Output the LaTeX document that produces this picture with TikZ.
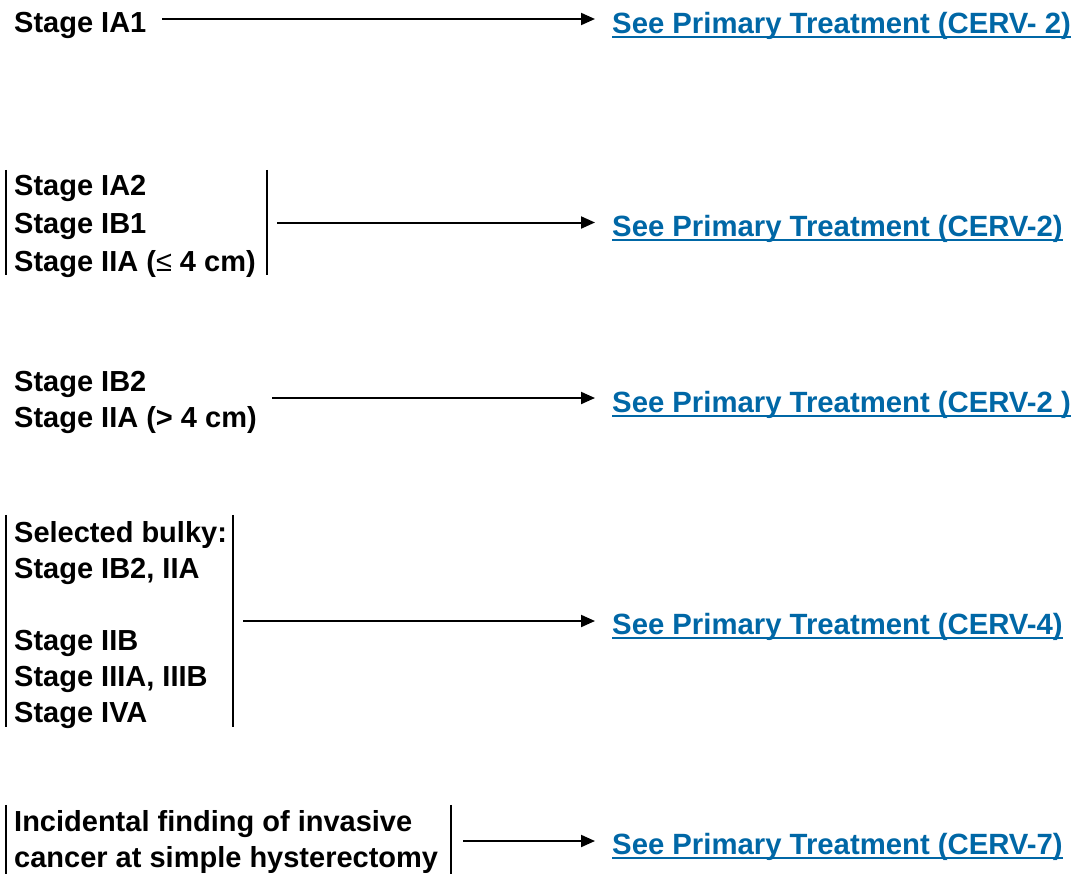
\documentclass[tikz,border=0pt]{standalone}
\usepackage{fontspec}
\setmainfont{Liberation Sans}
\newfontfamily\symfont{Liberation Sans}
\usetikzlibrary{arrows.meta}
\definecolor{linkblue}{RGB}{0,103,166}
\begin{document}
\begin{tikzpicture}[x=1pt,y=-1pt,
  txt/.style={inner sep=0pt,align=left,font=\bfseries\fontsize{29}{36}\selectfont},
  frame/.style={inner sep=0pt,anchor=west},
  link/.style={inner sep=0pt,anchor=base west,text=linkblue,
    font=\bfseries\fontsize{29.3}{35}\selectfont},
  arr/.style={line width=2pt,-{Triangle[length=14pt,width=12pt]},shorten >=17pt},
  bar/.style={line width=2pt}]
\useasboundingbox (0,0) rectangle (1089,873);

% Stage IA1
\node[txt,anchor=base west] (s1) at (14,32.5) {Stage IA1};
\node[link] (l1) at (612,33) {See Primary Treatment (CERV- 2)};
\coordinate (a1) at (162,19);
\draw[arr] (a1) -- (a1 -| l1.west);

% Stage IA2 / IB1 / IIA small
\node[frame,minimum width=261pt,minimum height=105pt] (g2) at (6,222.5) {};
\node[txt,anchor=west] (t2) at (14,226.5)
  {Stage IA2\\[2pt]Stage IB1\\[2pt]Stage IIA ({\symfont\mdseries ≤} 4 cm)};
\node[link] (l2) at (612,236) {See Primary Treatment (CERV-2)};
\draw[bar] (g2.north west) -- (g2.south west);
\draw[bar] (g2.north east) -- (g2.south east);
\draw[arr,shorten <=10pt] (g2.east) -- (g2.east -| l2.west);

% Stage IB2 / IIA large
\node[txt,anchor=west] (s3) at (14,402) {Stage IB2\\Stage IIA (> 4 cm)};
\node[link] (l3) at (612,412) {See Primary Treatment (CERV-2 )};
\coordinate (a3) at (272,398);
\draw[arr] (a3) -- (a3 -| l3.west);

% Selected bulky and locally advanced
\node[frame,minimum width=227pt,minimum height=212pt] (g4) at (6,621) {};
\node[txt,anchor=west] (t4) at (14,625.5)
  {Selected bulky:\\Stage IB2, IIA\\\mbox{}\\Stage IIB\\Stage IIIA, IIIB\\Stage IVA};
\node[link] (l4) at (612,634) {See Primary Treatment (CERV-4)};
\draw[bar] (g4.north west) -- (g4.south west);
\draw[bar] (g4.north east) -- (g4.south east);
\draw[arr,shorten <=10pt] (g4.east) -- (g4.east -| l4.west);

% Incidental finding
\node[frame,minimum width=445pt,minimum height=72pt] (g5) at (6,841) {};
\node[txt,anchor=west] (t5) at (14,842)
  {Incidental finding of invasive\\cancer at simple hysterectomy};
\node[link] (l5) at (612,854) {See Primary Treatment (CERV-7)};
\draw[bar] (g5.north west) -- (g5.south west);
\draw[bar] (g5.north east) -- (g5.south east);
\draw[arr,shorten <=12pt] (g5.east) -- (g5.east -| l5.west);

% underlines of the links
\foreach \n in {l1,l2,l3,l4,l5}
  \draw[linkblue,line width=2pt] ([yshift=-4pt]\n.base west) -- ([yshift=-4pt]\n.base east);
\end{tikzpicture}
\end{document}
